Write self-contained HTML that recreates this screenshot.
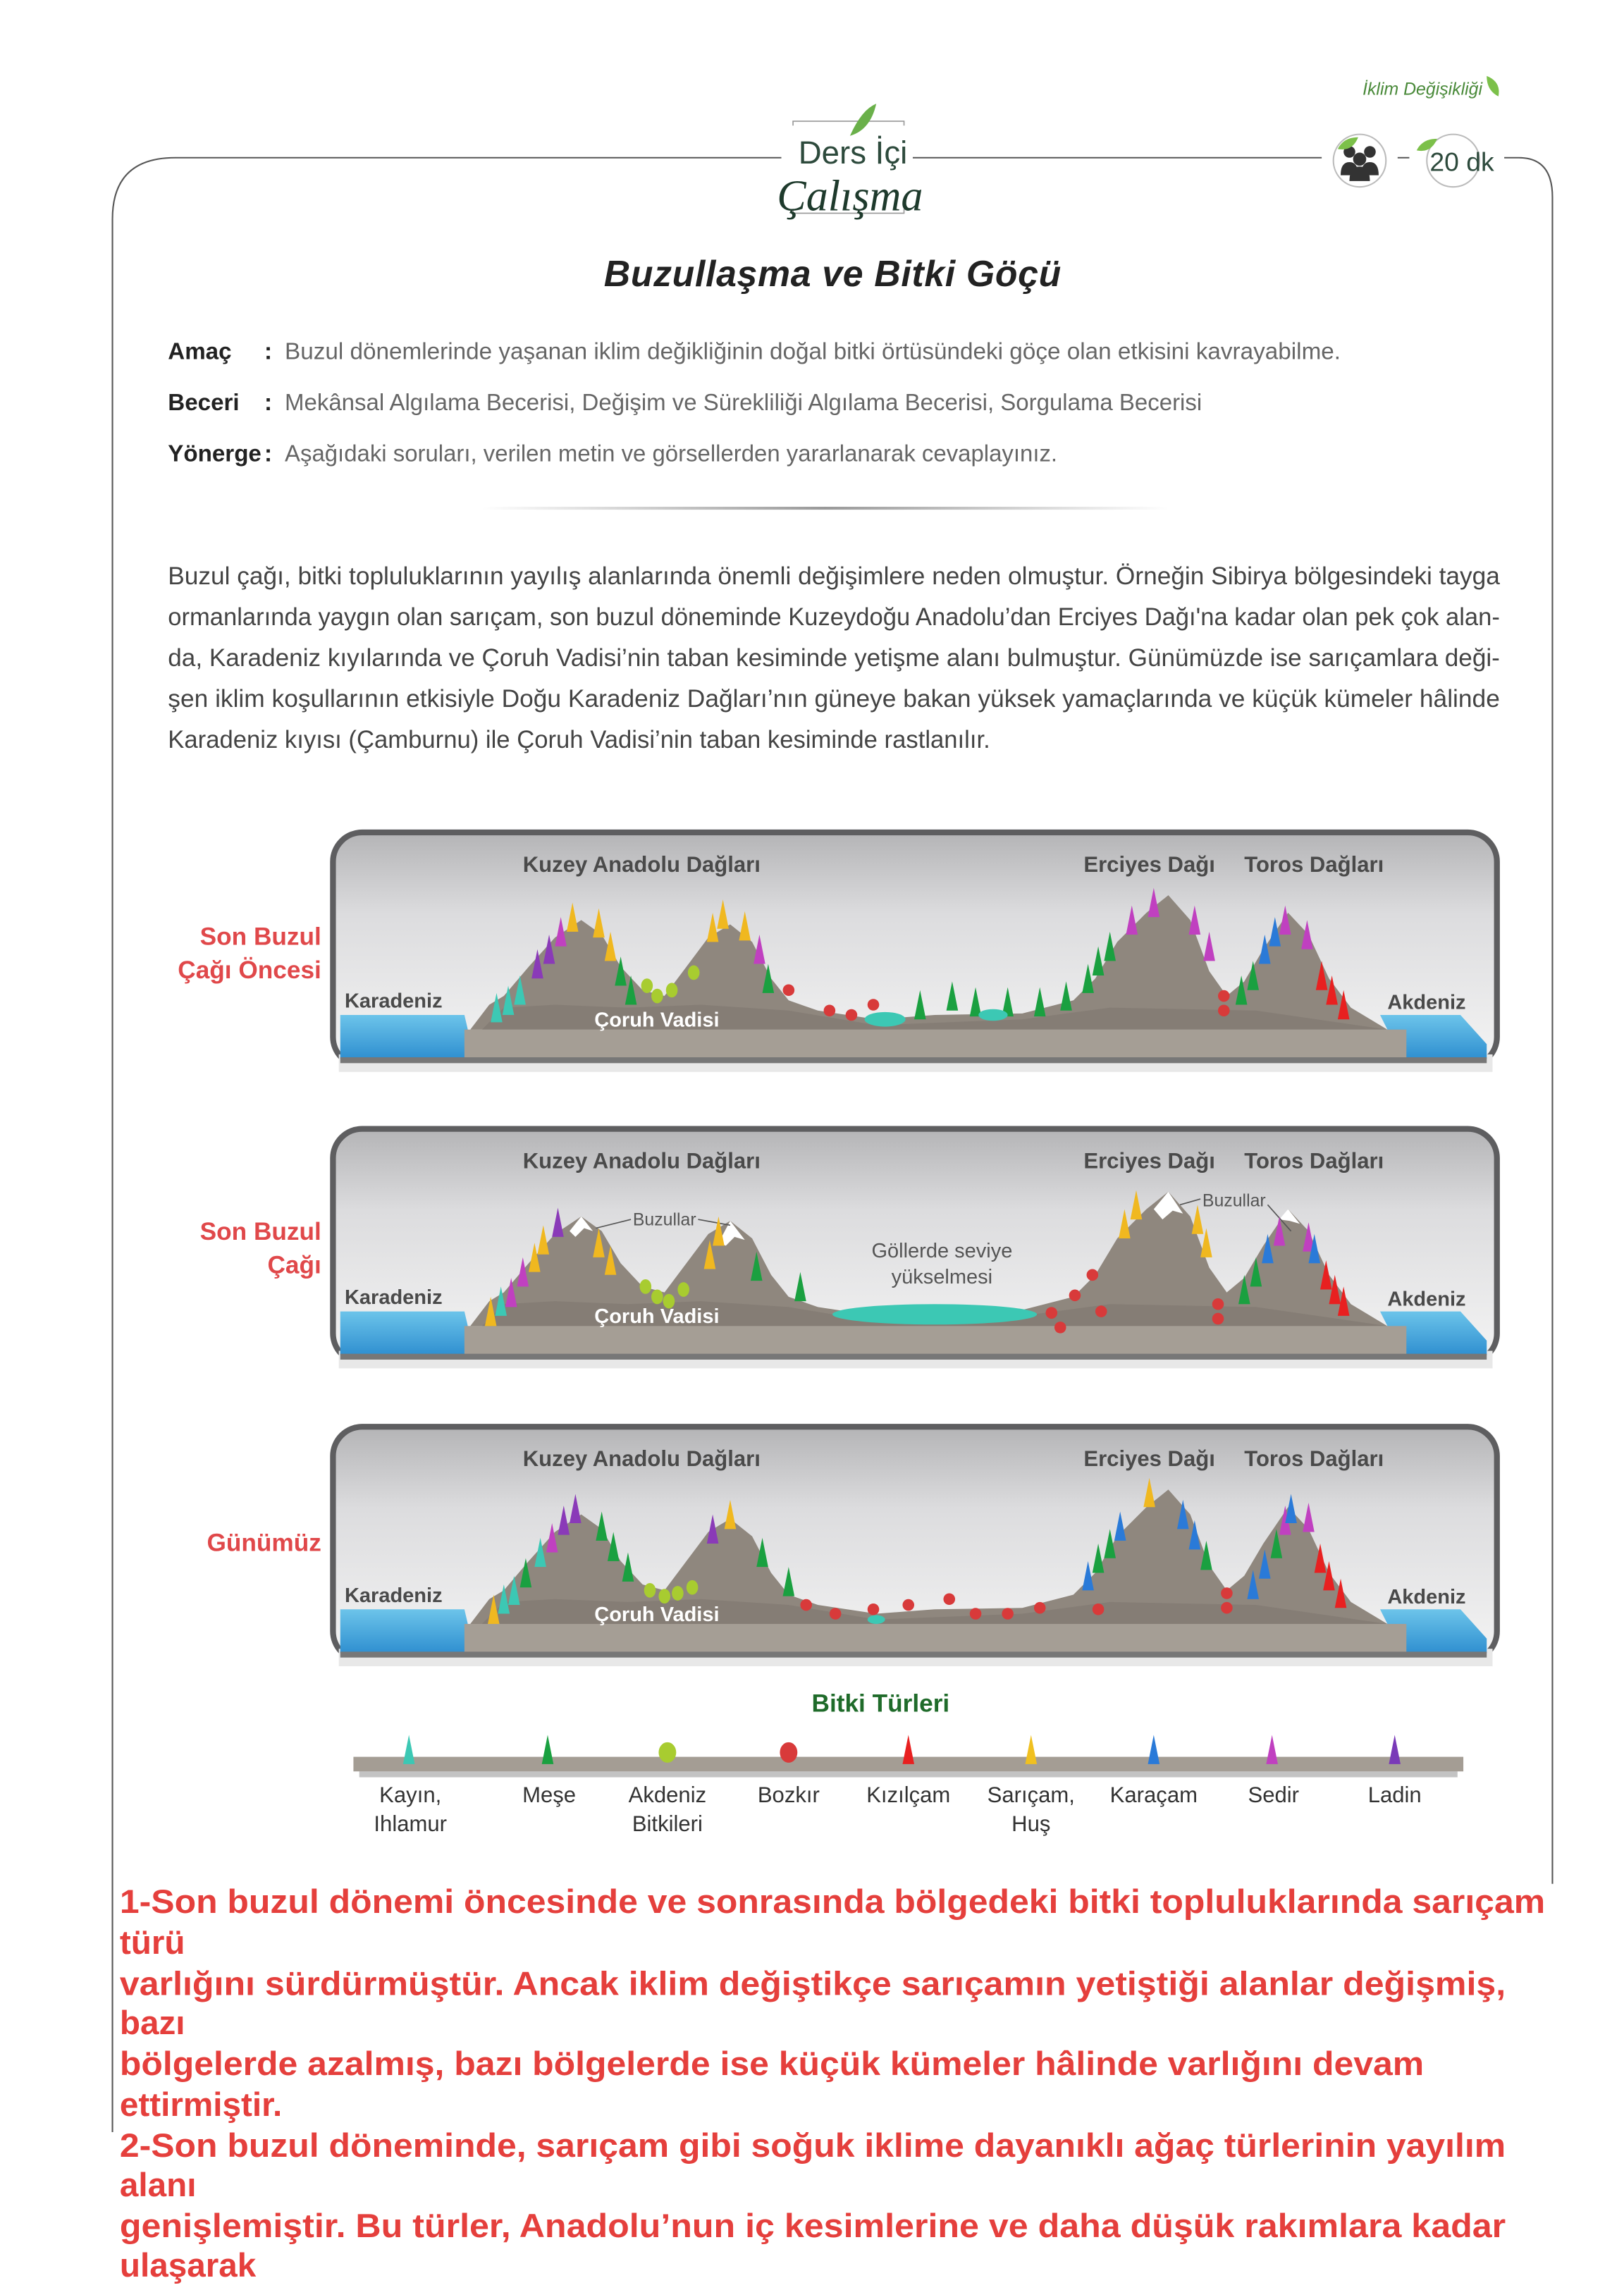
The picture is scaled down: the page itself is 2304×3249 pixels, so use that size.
<!DOCTYPE html>
<html><head><meta charset="utf-8">
<style>html,body{margin:0;padding:0;background:#fff}svg{display:block}</style>
</head><body>
<svg xmlns="http://www.w3.org/2000/svg" width="2304" height="3249" viewBox="0 0 1112 1568.1" font-family="Liberation Sans, sans-serif">
<defs>
<linearGradient id="sky" x1="0" y1="0" x2="0" y2="1"><stop offset="0" stop-color="#b4b4b6"/><stop offset="0.35" stop-color="#dcdcde"/><stop offset="1" stop-color="#f4f4f4"/></linearGradient>
<linearGradient id="sea" x1="0" y1="0" x2="0" y2="1"><stop offset="0" stop-color="#6cc4ea"/><stop offset="1" stop-color="#2f8fd0"/></linearGradient>
<path id="cn" d="M-4,0 L0,-20 L4,0 Z"/>
<g id="base">
<rect x="228" y="0" width="797" height="160" rx="20" fill="url(#sky)" stroke="#5e5e60" stroke-width="4"/>
<rect x="232" y="152" width="790" height="12" fill="#e8e8e8"/>
<polygon points="233,125 318,125 325,155 233,155" fill="url(#sea)"/>
<polygon points="945,125 1000,125 1018,145 1018,155 960,155" fill="url(#sea)"/>
<rect x="318" y="135" width="645" height="20" fill="#a59e95"/>
<rect x="233" y="154" width="785" height="4" fill="#777"/>
<path d="M322,135 L335,118 345,112 362,92 380,72 398,60 412,70 425,92 440,108 455,112 470,92 485,72 500,63 515,75 528,100 540,115 560,122 600,128 640,125 700,124 735,115 750,100 765,75 785,55 800,43 815,60 828,95 840,112 852,102 865,80 882,55 896,70 910,100 925,120 950,135 Z" fill="#8f877e"/>
<path d="M330,135 L345,120 380,118 430,120 480,118 540,122 600,132 700,128 760,120 860,122 950,135 Z" fill="#7f776f" opacity="0.6"/>
<text x="358" y="27" font-size="15" font-weight="bold" fill="#4a4a4a">Kuzey Anadolu Dağları</text>
<text x="742" y="27" font-size="15" font-weight="bold" fill="#4a4a4a">Erciyes Dağı</text>
<text x="852" y="27" font-size="15" font-weight="bold" fill="#4a4a4a">Toros Dağları</text>
<text x="236" y="120" font-size="14" font-weight="bold" fill="#4a4a4a">Karadeniz</text>
<text x="950" y="121" font-size="14" font-weight="bold" fill="#4a4a4a">Akdeniz</text>
<text x="407" y="133" font-size="14" font-weight="bold" fill="#fff">Çoruh Vadisi</text>
</g>
</defs>

<!-- header -->
<text x="1015" y="65" font-size="12" font-style="italic" fill="#4a8a3a" text-anchor="end">İklim Değişikliği</text>
<path d="M1018,52 q10,4 8,14 q-8,-4 -8,-14z" fill="#7cc04a"/>
<path d="M535,108 L120,108 Q77,108 77,150 L77,1460" fill="none" stroke="#555" stroke-width="1"/>
<path d="M625,108 L905,108 M957,108 L965,108 M1030,108 L1040,108 Q1063,108 1063,135 L1063,1290" fill="none" stroke="#555" stroke-width="1"/>
<rect x="543" y="83" width="76" height="63" fill="none" stroke="#999" stroke-width="0.8"/>
<rect x="540" y="86" width="82" height="57" fill="#fff"/>
<path d="M582,93 q8,-18 18,-22 q-4,18 -18,22z" fill="#6ab04a"/>
<text x="584" y="112" font-size="22" fill="#2d4a3c" text-anchor="middle">Ders İçi</text>
<text x="582" y="144" font-size="30" font-style="italic" font-family="Liberation Serif, serif" fill="#1e3a2c" text-anchor="middle">Çalışma</text>
<circle cx="931" cy="110" r="18" fill="#fff" stroke="#bbb" stroke-width="1"/>
<circle cx="924" cy="104" r="4" fill="#333"/><circle cx="938" cy="104" r="4" fill="#333"/><circle cx="931" cy="109" r="4.5" fill="#333"/>
<path d="M918,120 q0,-9 6,-9 q6,0 6,9z M932,120 q0,-9 6,-9 q6,0 6,9z M924,124 q0,-10 7,-10 q7,0 7,10z" fill="#333"/>
<path d="M916,102 q4,-8 14,-8 q-4,10 -14,8z" fill="#7cc04a"/>
<circle cx="995" cy="110" r="18" fill="#fff" stroke="#bbb" stroke-width="1"/>
<path d="M970,103 q4,-8 14,-8 q-4,10 -14,8z" fill="#7cc04a"/>
<text x="1001" y="117" font-size="18" fill="#2d4a3c" text-anchor="middle">20 dk</text>

<text x="570" y="196" font-size="25" font-weight="bold" font-style="italic" fill="#222" text-anchor="middle" textLength="313">Buzullaşma ve Bitki Göçü</text>

<g font-size="16">
<text x="115" y="246" font-weight="bold" fill="#222">Amaç</text>
<text x="181" y="246" font-weight="bold" fill="#222">:</text>
<text x="195" y="246" fill="#666" textLength="723" lengthAdjust="spacingAndGlyphs">Buzul dönemlerinde yaşanan iklim değikliğinin doğal bitki örtüsündeki göçe olan etkisini kavrayabilme.</text>
<text x="115" y="281" font-weight="bold" fill="#222">Beceri</text>
<text x="181" y="281" font-weight="bold" fill="#222">:</text>
<text x="195" y="281" fill="#666" textLength="628" lengthAdjust="spacingAndGlyphs">Mekânsal Algılama Becerisi, Değişim ve Sürekliliği Algılama Becerisi, Sorgulama Becerisi</text>
<text x="115" y="316" font-weight="bold" fill="#222">Yönerge</text>
<text x="181" y="316" font-weight="bold" fill="#222">:</text>
<text x="195" y="316" fill="#666" textLength="529" lengthAdjust="spacingAndGlyphs">Aşağıdaki soruları, verilen metin ve görsellerden yararlanarak cevaplayınız.</text>
</g>
<linearGradient id="sep" x1="0" x2="1"><stop offset="0" stop-color="#fff"/><stop offset="0.5" stop-color="#999"/><stop offset="1" stop-color="#fff"/></linearGradient>
<rect x="330" y="347" width="470" height="2" fill="url(#sep)"/>

<g font-size="17" fill="#444">
<text x="115" y="400" textLength="912" lengthAdjust="spacingAndGlyphs">Buzul çağı, bitki topluluklarının yayılış alanlarında önemli değişimlere neden olmuştur. Örneğin Sibirya bölgesindeki tayga</text>
<text x="115" y="428" textLength="912" lengthAdjust="spacingAndGlyphs">ormanlarında yaygın olan sarıçam, son buzul döneminde Kuzeydoğu Anadolu’dan Erciyes Dağı'na kadar olan pek çok alan-</text>
<text x="115" y="456" textLength="912" lengthAdjust="spacingAndGlyphs">da, Karadeniz kıyılarında ve Çoruh Vadisi’nin taban kesiminde yetişme alanı bulmuştur. Günümüzde ise sarıçamlara deği-</text>
<text x="115" y="484" textLength="912" lengthAdjust="spacingAndGlyphs">şen iklim koşullarının etkisiyle Doğu Karadeniz Dağları’nın güneye bakan yüksek yamaçlarında ve küçük kümeler hâlinde</text>
<text x="115" y="512" textLength="563" lengthAdjust="spacingAndGlyphs">Karadeniz kıyısı (Çamburnu) ile Çoruh Vadisi’nin taban kesiminde rastlanılır.</text>
</g>

<g font-size="17" font-weight="bold" fill="#e0484a" text-anchor="end">
<text x="220" y="647">Son Buzul</text><text x="220" y="670">Çağı Öncesi</text>
<text x="220" y="849">Son Buzul</text><text x="220" y="872">Çağı</text>
<text x="220" y="1062">Günümüz</text>
</g>

<!-- panel 1 -->
<g transform="translate(0,570)">
<use href="#base"/>
<g>
<use href="#cn" x="340" y="130" fill="#3cc8b4"/><use href="#cn" x="348" y="125" fill="#3cc8b4"/><use href="#cn" x="356" y="118" fill="#3cc8b4"/>
<use href="#cn" x="368" y="100" fill="#8a3ab8"/><use href="#cn" x="376" y="90" fill="#8a3ab8"/><use href="#cn" x="384" y="78" fill="#c040c0"/>
<use href="#cn" x="392" y="68" fill="#f0b820"/><use href="#cn" x="410" y="72" fill="#f0b820"/><use href="#cn" x="418" y="88" fill="#f0b820"/>
<use href="#cn" x="425" y="105" fill="#1aa040"/><use href="#cn" x="432" y="118" fill="#1aa040"/>
<use href="#cn" x="488" y="75" fill="#f0b820"/><use href="#cn" x="495" y="66" fill="#f0b820"/><use href="#cn" x="510" y="74" fill="#f0b820"/>
<use href="#cn" x="520" y="90" fill="#c040c0"/><use href="#cn" x="526" y="110" fill="#1aa040"/>
<use href="#cn" x="630" y="128" fill="#1aa040"/><use href="#cn" x="652" y="122" fill="#1aa040"/><use href="#cn" x="668" y="126" fill="#1aa040"/><use href="#cn" x="690" y="126" fill="#1aa040"/><use href="#cn" x="712" y="126" fill="#1aa040"/><use href="#cn" x="730" y="122" fill="#1aa040"/>
<use href="#cn" x="745" y="110" fill="#1aa040"/><use href="#cn" x="752" y="98" fill="#1aa040"/><use href="#cn" x="760" y="88" fill="#1aa040"/>
<use href="#cn" x="775" y="70" fill="#c040c0"/><use href="#cn" x="790" y="58" fill="#c040c0"/><use href="#cn" x="818" y="70" fill="#c040c0"/><use href="#cn" x="828" y="88" fill="#c040c0"/>
<use href="#cn" x="850" y="118" fill="#1aa040"/><use href="#cn" x="858" y="108" fill="#1aa040"/>
<use href="#cn" x="866" y="90" fill="#2a7ad8"/><use href="#cn" x="873" y="78" fill="#2a7ad8"/><use href="#cn" x="880" y="70" fill="#c040c0"/><use href="#cn" x="895" y="80" fill="#c040c0"/>
<use href="#cn" x="905" y="108" fill="#e82020"/><use href="#cn" x="912" y="118" fill="#e82020"/><use href="#cn" x="920" y="128" fill="#e82020"/>
<ellipse cx="443" cy="105" rx="4" ry="5" fill="#a8cc30"/><ellipse cx="450" cy="112" rx="4" ry="5" fill="#a8cc30"/><ellipse cx="460" cy="108" rx="4" ry="5" fill="#a8cc30"/><ellipse cx="475" cy="96" rx="4" ry="5" fill="#a8cc30"/>
<circle cx="540" cy="108" r="4" fill="#d83a3a"/><circle cx="568" cy="122" r="4" fill="#d83a3a"/><circle cx="583" cy="125" r="4" fill="#d83a3a"/><circle cx="598" cy="118" r="4" fill="#d83a3a"/><circle cx="838" cy="112" r="4" fill="#d83a3a"/><circle cx="838" cy="122" r="4" fill="#d83a3a"/>
<ellipse cx="606" cy="128" rx="14" ry="5" fill="#3cc8b4"/><ellipse cx="680" cy="125" rx="10" ry="4" fill="#3cc8b4"/>
</g>
</g>

<!-- panel 2 -->
<g transform="translate(0,773)">
<use href="#base"/>
<path d="M390,70 L398,60 406,70 400,68 394,74Z M492,78 L500,63 510,76 503,74 497,80Z M790,55 L800,43 810,58 803,56 796,62Z M876,62 L882,55 890,65 883,63Z" fill="#fff"/>
<ellipse cx="640" cy="127" rx="70" ry="7" fill="#3cc8b4"/>
<text x="455" y="66" font-size="12" fill="#555" text-anchor="middle">Buzullar</text>
<path d="M408,68 L432,62 M478,62 L500,66" stroke="#555" stroke-width="0.8"/>
<text x="845" y="53" font-size="12" fill="#555" text-anchor="middle">Buzullar</text>
<path d="M808,52 L822,48 M868,52 L884,70" stroke="#555" stroke-width="0.8"/>
<text x="645" y="88" font-size="14" fill="#555" text-anchor="middle">Göllerde seviye</text>
<text x="645" y="106" font-size="14" fill="#555" text-anchor="middle">yükselmesi</text>
<use href="#cn" x="336" y="135" fill="#f0b820"/><use href="#cn" x="343" y="128" fill="#3cc8b4"/><use href="#cn" x="350" y="122" fill="#c040c0"/><use href="#cn" x="358" y="108" fill="#c040c0"/>
<use href="#cn" x="366" y="98" fill="#f0b820"/><use href="#cn" x="372" y="86" fill="#f0b820"/><use href="#cn" x="382" y="74" fill="#8a3ab8"/>
<use href="#cn" x="410" y="88" fill="#f0b820"/><use href="#cn" x="418" y="100" fill="#f0b820"/>
<use href="#cn" x="486" y="96" fill="#f0b820"/><use href="#cn" x="492" y="80" fill="#f0b820"/><use href="#cn" x="518" y="104" fill="#1aa040"/><use href="#cn" x="548" y="118" fill="#1aa040"/>
<use href="#cn" x="770" y="75" fill="#f0b820"/><use href="#cn" x="778" y="62" fill="#f0b820"/><use href="#cn" x="820" y="72" fill="#f0b820"/><use href="#cn" x="826" y="88" fill="#f0b820"/>
<use href="#cn" x="852" y="120" fill="#1aa040"/><use href="#cn" x="860" y="108" fill="#1aa040"/><use href="#cn" x="868" y="92" fill="#2a7ad8"/><use href="#cn" x="876" y="80" fill="#c040c0"/><use href="#cn" x="896" y="84" fill="#c040c0"/><use href="#cn" x="900" y="92" fill="#2a7ad8"/>
<use href="#cn" x="908" y="110" fill="#e82020"/><use href="#cn" x="914" y="120" fill="#e82020"/><use href="#cn" x="920" y="128" fill="#e82020"/>
<ellipse cx="442" cy="108" rx="4" ry="5" fill="#a8cc30"/><ellipse cx="450" cy="115" rx="4" ry="5" fill="#a8cc30"/><ellipse cx="458" cy="118" rx="4" ry="5" fill="#a8cc30"/><ellipse cx="468" cy="110" rx="4" ry="5" fill="#a8cc30"/>
<circle cx="720" cy="126" r="4" fill="#d83a3a"/><circle cx="726" cy="136" r="4" fill="#d83a3a"/><circle cx="736" cy="114" r="4" fill="#d83a3a"/><circle cx="748" cy="100" r="4" fill="#d83a3a"/><circle cx="754" cy="125" r="4" fill="#d83a3a"/><circle cx="834" cy="120" r="4" fill="#d83a3a"/><circle cx="834" cy="130" r="4" fill="#d83a3a"/>
</g>

<!-- panel 3 -->
<g transform="translate(0,977)">
<use href="#base"/>
<use href="#cn" x="338" y="135" fill="#f0b820"/><use href="#cn" x="345" y="128" fill="#3cc8b4"/><use href="#cn" x="352" y="122" fill="#3cc8b4"/><use href="#cn" x="360" y="110" fill="#1aa040"/>
<use href="#cn" x="370" y="96" fill="#3cc8b4"/><use href="#cn" x="378" y="86" fill="#c040c0"/><use href="#cn" x="386" y="74" fill="#8a3ab8"/><use href="#cn" x="394" y="66" fill="#8a3ab8"/>
<use href="#cn" x="412" y="78" fill="#1aa040"/><use href="#cn" x="420" y="92" fill="#1aa040"/><use href="#cn" x="430" y="106" fill="#1aa040"/>
<use href="#cn" x="488" y="80" fill="#8a3ab8"/><use href="#cn" x="500" y="70" fill="#f0b820"/><use href="#cn" x="522" y="96" fill="#1aa040"/><use href="#cn" x="540" y="116" fill="#1aa040"/>
<use href="#cn" x="745" y="112" fill="#2a7ad8"/><use href="#cn" x="752" y="100" fill="#1aa040"/><use href="#cn" x="760" y="90" fill="#1aa040"/><use href="#cn" x="767" y="78" fill="#2a7ad8"/><use href="#cn" x="787" y="55" fill="#f0b820"/>
<use href="#cn" x="810" y="70" fill="#2a7ad8"/><use href="#cn" x="818" y="84" fill="#2a7ad8"/><use href="#cn" x="826" y="98" fill="#1aa040"/>
<use href="#cn" x="858" y="118" fill="#2a7ad8"/><use href="#cn" x="866" y="104" fill="#2a7ad8"/><use href="#cn" x="874" y="90" fill="#1aa040"/><use href="#cn" x="880" y="74" fill="#c040c0"/><use href="#cn" x="884" y="66" fill="#2a7ad8"/><use href="#cn" x="896" y="72" fill="#c040c0"/>
<use href="#cn" x="904" y="100" fill="#e82020"/><use href="#cn" x="910" y="112" fill="#e82020"/><use href="#cn" x="918" y="124" fill="#e82020"/>
<ellipse cx="445" cy="112" rx="4" ry="5" fill="#a8cc30"/><ellipse cx="455" cy="116" rx="4" ry="5" fill="#a8cc30"/><ellipse cx="464" cy="114" rx="4" ry="5" fill="#a8cc30"/><ellipse cx="474" cy="110" rx="4" ry="5" fill="#a8cc30"/>
<circle cx="552" cy="122" r="4" fill="#d83a3a"/><circle cx="572" cy="128" r="4" fill="#d83a3a"/><circle cx="598" cy="125" r="4" fill="#d83a3a"/><circle cx="622" cy="122" r="4" fill="#d83a3a"/><circle cx="650" cy="118" r="4" fill="#d83a3a"/><circle cx="668" cy="128" r="4" fill="#d83a3a"/><circle cx="690" cy="128" r="4" fill="#d83a3a"/><circle cx="712" cy="124" r="4" fill="#d83a3a"/><circle cx="752" cy="125" r="4" fill="#d83a3a"/><circle cx="840" cy="114" r="4" fill="#d83a3a"/><circle cx="840" cy="124" r="4" fill="#d83a3a"/>
<ellipse cx="600" cy="132" rx="6" ry="3" fill="#3cc8b4"/>
</g>

<!-- legend -->
<text x="603" y="1172" font-size="17" font-weight="bold" fill="#1f6b2a" text-anchor="middle">Bitki Türleri</text>
<rect x="242" y="1203" width="760" height="10" fill="#a49d94"/>
<rect x="246" y="1213" width="752" height="4" fill="#888" opacity="0.5"/>
<use href="#cn" x="280" y="1208" fill="#3cc8b4"/>
<use href="#cn" x="375" y="1208" fill="#1aa040"/>
<ellipse cx="457" cy="1200" rx="6" ry="7" fill="#a8cc30"/>
<ellipse cx="540" cy="1200" rx="6" ry="7" fill="#d83a3a"/>
<use href="#cn" x="622" y="1208" fill="#e82020"/>
<use href="#cn" x="706" y="1208" fill="#f0c020"/>
<use href="#cn" x="790" y="1208" fill="#2a7ad8"/>
<use href="#cn" x="871" y="1208" fill="#c040c0"/>
<use href="#cn" x="955" y="1208" fill="#7a3ab8"/>
<g font-size="15" fill="#333" text-anchor="middle">
<text x="281" y="1234">Kayın,</text><text x="281" y="1254">Ihlamur</text>
<text x="376" y="1234">Meşe</text>
<text x="457" y="1234">Akdeniz</text><text x="457" y="1254">Bitkileri</text>
<text x="540" y="1234">Bozkır</text>
<text x="622" y="1234">Kızılçam</text>
<text x="706" y="1234">Sarıçam,</text><text x="706" y="1254">Huş</text>
<text x="790" y="1234">Karaçam</text>
<text x="872" y="1234">Sedir</text>
<text x="955" y="1234">Ladin</text>
</g>

<!-- red answer text -->
<g font-size="23" font-weight="bold" fill="#e53f3c">
<text x="82" y="1310" textLength="976" lengthAdjust="spacingAndGlyphs">1-Son buzul dönemi öncesinde ve sonrasında bölgedeki bitki topluluklarında sarıçam</text>
<text x="82" y="1338">türü</text>
<text x="82" y="1366" textLength="949" lengthAdjust="spacingAndGlyphs">varlığını sürdürmüştür. Ancak iklim değiştikçe sarıçamın yetiştiği alanlar değişmiş,</text>
<text x="82" y="1393">bazı</text>
<text x="82" y="1421" textLength="893" lengthAdjust="spacingAndGlyphs">bölgelerde azalmış, bazı bölgelerde ise küçük kümeler hâlinde varlığını devam</text>
<text x="82" y="1449">ettirmiştir.</text>
<text x="82" y="1477" textLength="949" lengthAdjust="spacingAndGlyphs">2-Son buzul döneminde, sarıçam gibi soğuk iklime dayanıklı ağaç türlerinin yayılım</text>
<text x="82" y="1504">alanı</text>
<text x="82" y="1532" textLength="949" lengthAdjust="spacingAndGlyphs">genişlemiştir. Bu türler, Anadolu’nun iç kesimlerine ve daha düşük rakımlara kadar</text>
<text x="82" y="1559">ulaşarak</text>
</g>
</svg>
</body></html>
